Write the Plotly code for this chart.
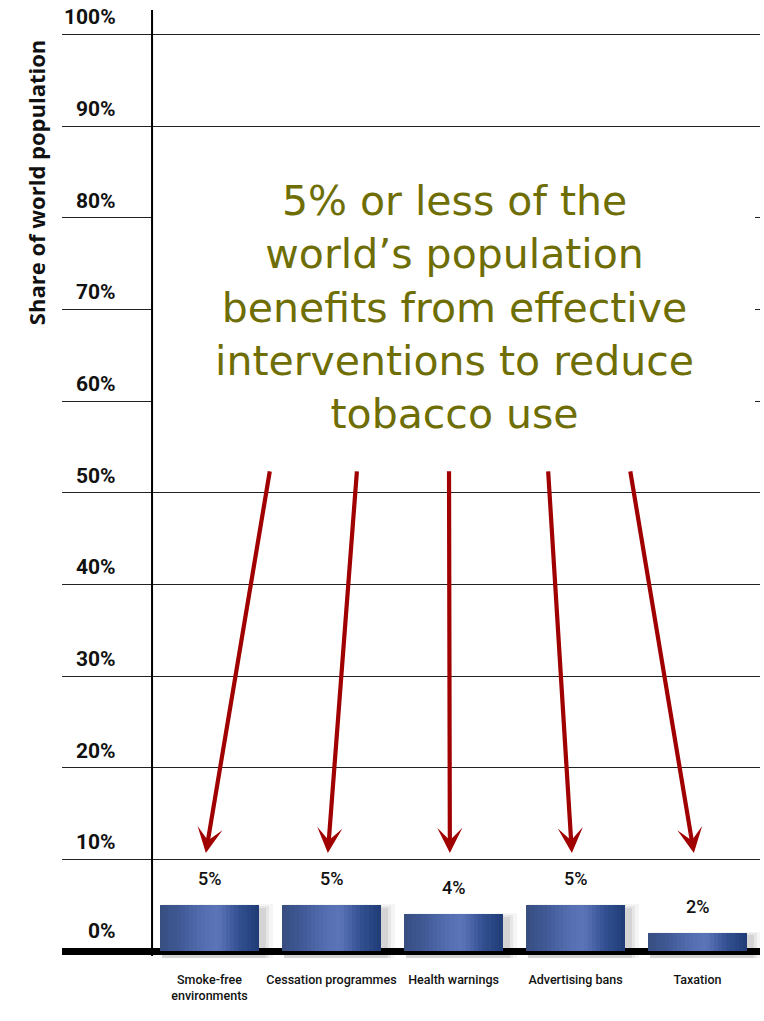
import plotly.graph_objects as go

# ---------------- data ----------------
categories = ["Smoke-free<br>environments", "Cessation programmes", "Health warnings",
              "Advertising bans", "Taxation"]
values = [5, 5, 4, 5, 2]
value_labels = ["5%", "5%", "4%", "5%", "2%"]
y_ticks = [0, 10, 20, 30, 40, 50, 60, 70, 80, 90, 100]
y_tick_labels = ["0%", "10%", "20%", "30%", "40%", "50%", "60%", "70%", "80%", "90%", "100%"]
y_title = "Share of world population"
callout = ("5% or less of the<br>world\u2019s population<br>benefits from effective"
           "<br>interventions to reduce<br>tobacco use")
# arrow tails (x in category units, y in %), heads point at each bar
arrow_tail_x = [0.496, 1.209, 1.963, 2.775, 3.447]
arrow_tail_y = 52.5
arrow_head_y = 10.7

idx = list(range(len(categories)))
X_RANGE = [-1.209, 4.512]
Y_RANGE = [-0.764, 102.67]
BAR_W = 0.81
AXIS_X = -0.471
COND = "Roboto, Liberation Sans, sans-serif"

fig = go.Figure()

# ---- soft shadow behind bars ----
for grow, alpha in [(0.10, 0.04), (0.07, 0.06), (0.04, 0.08)]:
    fig.add_trace(go.Bar(
        x=idx, y=[v + 0.5 + grow * 6 for v in values], base=-1.0,
        width=BAR_W + grow, offset=-BAR_W / 2 + 0.015,
        marker=dict(color=f"rgba(0,0,0,{alpha})", line=dict(width=0)),
        hoverinfo="skip", showlegend=False))

# ---- gradient bars made of thin vertical strips ----
stops = [(0.0, (0x38, 0x4e, 0x80)), (0.18, (0x3f, 0x58, 0x94)), (0.45, (0x55, 0x6e, 0xb2)),
         (0.58, (0x5c, 0x75, 0xb9)), (0.82, (0x30, 0x4d, 0x8e)), (1.0, (0x20, 0x3c, 0x76))]

def interp(t):
    for (t0, c0), (t1, c1) in zip(stops[:-1], stops[1:]):
        if t0 <= t <= t1:
            f = (t - t0) / (t1 - t0) if t1 > t0 else 0
            return "rgb(%d,%d,%d)" % tuple(round(a + (b - a) * f) for a, b in zip(c0, c1))
    return "rgb(%d,%d,%d)" % stops[-1][1]

N = 24
sw = BAR_W / N
for k in range(N):
    fig.add_trace(go.Bar(
        x=idx, y=values, width=sw * 1.06, offset=-BAR_W / 2 + k * sw,
        marker=dict(color=interp((k + 0.5) / N), line=dict(width=0)),
        hoverinfo="skip", showlegend=False))

fig.update_layout(barmode="overlay")

# ---- value labels ----
for i, v, t in zip(idx, values, value_labels):
    fig.add_annotation(x=i, y=v, text=t, showarrow=False, yanchor="bottom", yshift=14,
                       font=dict(family=COND, size=18, color="#111", weight=500))

# ---- y tick labels above gridlines ----
for v, t in zip(y_ticks, y_tick_labels):
    fig.add_annotation(x=0.0802, xref="paper", y=v, yref="y", text=t, showarrow=False,
                       xanchor="right", yanchor="bottom", yshift=3 if v else 6,
                       font=dict(family=COND, size=21, color="#111", weight="bold"))

# ---- y title ----
fig.add_annotation(x=-0.037, xref="paper", y=0.8175, yref="paper", text=y_title,
                   showarrow=False, textangle=-90, xanchor="center", yanchor="middle",
                   font=dict(family="Open Sans, sans-serif", size=22, color="#111",
                             weight="bold"))

# ---- white box behind callout + vertical axis line ----
fig.add_shape(type="rect", xref="x", yref="y", x0=AXIS_X, x1=4.471, y0=52.3, y1=86.0,
              fillcolor="white", line=dict(width=0), layer="above")
fig.add_shape(type="line", xref="x", yref="paper", x0=AXIS_X, x1=AXIS_X, y0=0.002, y1=1,
              line=dict(color="#000", width=2), layer="above")

# ---- callout text ----
fig.add_annotation(x=2.012, y=70.2, xref="x", yref="y", text=callout, showarrow=False,
                   xanchor="center", yanchor="middle", align="center",
                   font=dict(family="DejaVu Sans, sans-serif", size=41, color="#6e6e05"))

# ---- arrows ----
for i, tx in zip(idx, arrow_tail_x):
    fig.add_annotation(x=i - 0.03, y=arrow_head_y, ax=tx, ay=arrow_tail_y,
                       xref="x", yref="y", axref="x", ayref="y", text="",
                       showarrow=True, arrowhead=3, arrowsize=1.0, arrowwidth=4.2,
                       arrowcolor="#a00000", standoff=0)

fig.update_xaxes(range=X_RANGE, tickmode="array", tickvals=idx, ticktext=categories,
                 showgrid=False, zeroline=False, showline=False, ticks="",
                 tickangle=0, automargin=False, ticklabelstandoff=12,
                 tickfont=dict(family=COND, size=12.5, color="#111", weight=500))
fig.update_yaxes(range=Y_RANGE, tickmode="array", tickvals=y_ticks, showticklabels=False,
                 automargin=False,
                 showgrid=True, gridcolor="#222", gridwidth=1.3,
                 zeroline=True, zerolinecolor="#000", zerolinewidth=7, ticks="")

fig.update_layout(width=764, height=1021, margin=dict(l=62, r=4, t=10, b=63),
                  paper_bgcolor="white", plot_bgcolor="white", showlegend=False,
                  bargap=0)

fig.write_html("out.html")
